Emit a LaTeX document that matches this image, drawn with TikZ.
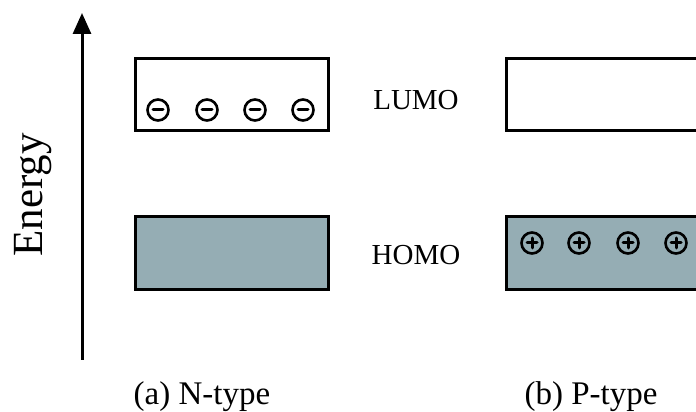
\documentclass[tikz,border=0pt]{standalone}
\usepackage{fontspec}
\setmainfont{Liberation Serif}
\usetikzlibrary{arrows.meta}
\definecolor{bandfill}{RGB}{149,173,180}
\tikzset{
  band/.style={draw=black, line width=3pt},
  filled/.style={band, fill=bandfill},
  carrier/.style={circle, draw=black, line width=2.6pt, minimum size=21pt, inner sep=0pt},
  sign/.style={line width=3pt, line cap=round},
  lbl/.style={font=\fontsize{29}{34}\selectfont},
  caption/.style={font=\fontsize{33}{38}\selectfont, anchor=base}
}
\newcommand{\minuscarrier}[2]{%
  \node[carrier] (#1) at #2 {};
  \draw[sign] ([xshift=-5pt]#1.center) -- ([xshift=5pt]#1.center);}
\newcommand{\pluscarrier}[2]{%
  \node[carrier] (#1) at #2 {};
  \draw[sign] ([xshift=-5pt]#1.center) -- ([xshift=5pt]#1.center);
  \draw[sign] ([yshift=-5pt]#1.center) -- ([yshift=5pt]#1.center);}
\begin{document}
\begin{tikzpicture}[x=1pt,y=1pt]
\useasboundingbox (0,0) rectangle (696,412);
\clip (0,0) rectangle (696,412);
% energy axis
\coordinate (ebot) at (82,52);
\coordinate (etop) at (82,399);
\draw[line width=3pt, -{Triangle[length=21pt,width=18pt]}] (ebot) -- (etop);
\node[font=\fontsize{43}{48}\selectfont, rotate=90, anchor=base] (energy) at (42,217) {Energy};
% N-type bands
\draw[band] (135,281) rectangle (328,353);
\draw[filled] (135,122) rectangle (328,195);
\minuscarrier{m1}{(158,302)}
\minuscarrier{m2}{(207,302)}
\minuscarrier{m3}{(255,302)}
\minuscarrier{m4}{(303,302)}
% P-type bands
\draw[band] (506,281) rectangle (720,353);
\draw[filled] (506,122) rectangle (720,195);
\pluscarrier{p1}{(532,169)}
\pluscarrier{p2}{(579,169)}
\pluscarrier{p3}{(628,169)}
\pluscarrier{p4}{(676,169)}
% level names
\node[lbl] (lumo) at (416,312) {LUMO};
\node[lbl] (homo) at (416,157) {HOMO};
% captions
\node[caption] (capa) at (202,7) {(a) N-type};
\node[caption] (capb) at (591,7) {(b) P-type};
\end{tikzpicture}
\end{document}
